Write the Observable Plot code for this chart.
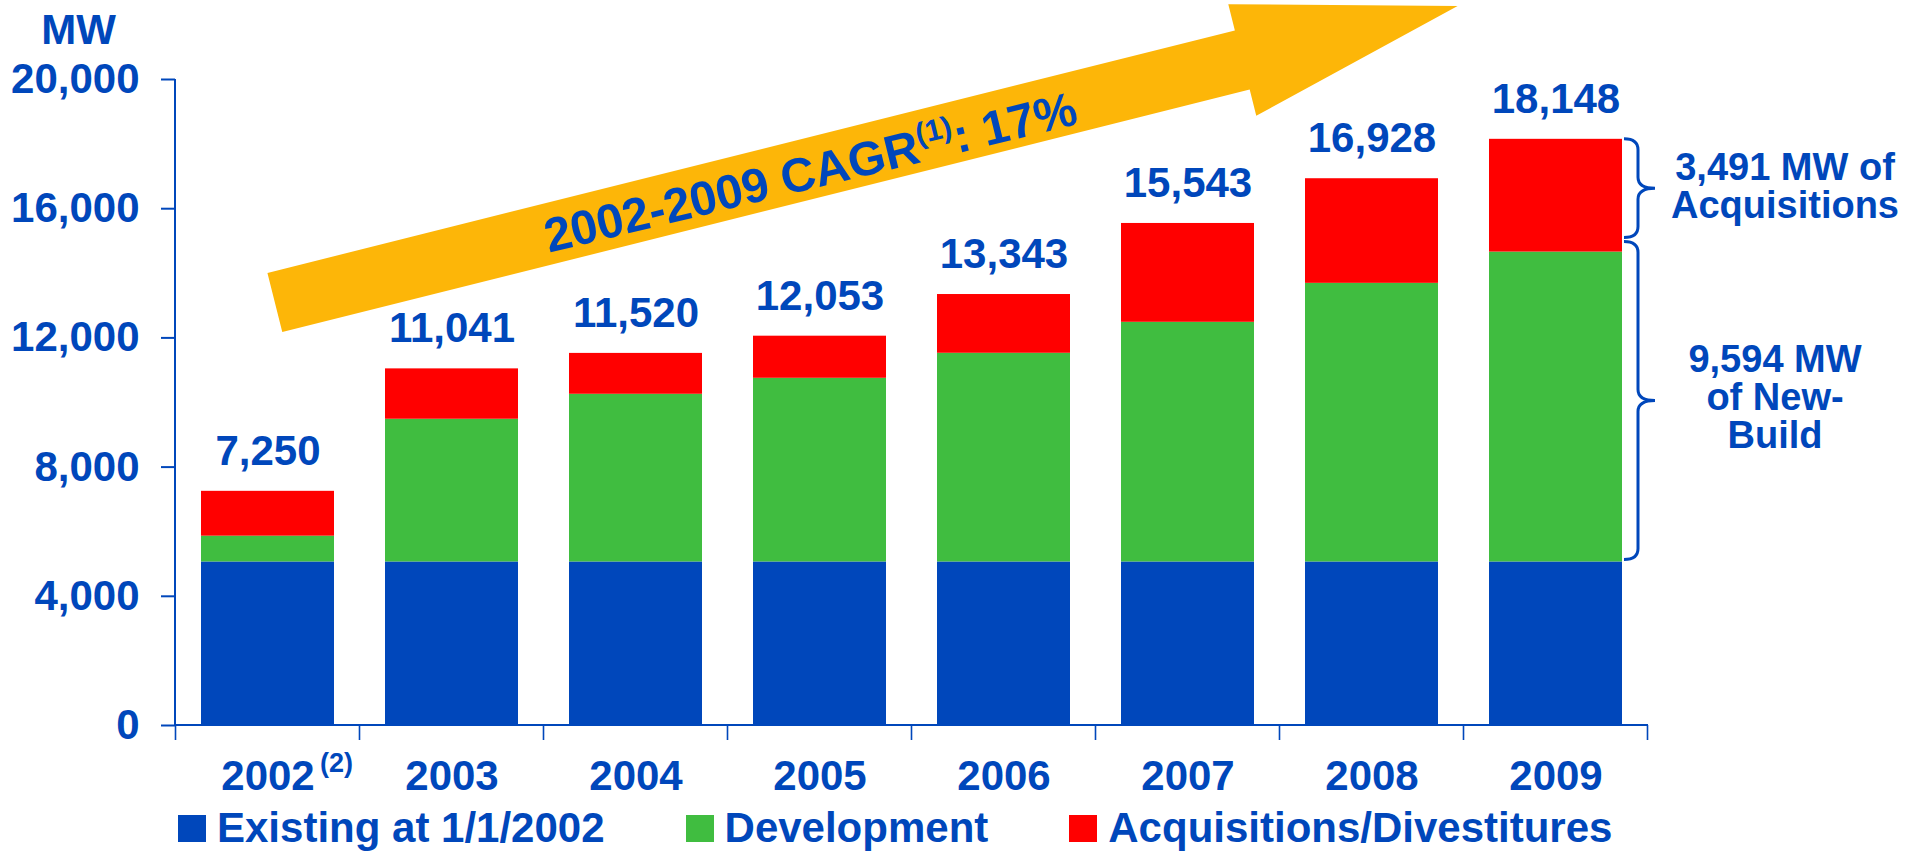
<!DOCTYPE html>
<html>
<head>
<meta charset="utf-8">
<script src="https://cdn.jsdelivr.net/npm/d3@7"></script>
<script src="https://cdn.jsdelivr.net/npm/@observablehq/plot@0.6"></script>
<style>
html, body { margin: 0; padding: 0; background: #fff; overflow: hidden; }
#chart svg { display: block; }
g[aria-label^="y-axis"] path, g[aria-label^="y-axis"] line { stroke-width: 2px; }
#legend {
  display: flex; align-items: baseline; gap: 81px;
  padding: 4px 0 0 178px; height: 48px; line-height: 48px;
  font: bold 42px 'Liberation Sans', Arial, sans-serif; color: #0047BB;
}
#legend .item { display: flex; align-items: baseline; white-space: nowrap; }
#legend .sw { display: inline-block; width: 28px; height: 27px; margin-right: 11px; }
</style>
</head>
<body>
<div id="chart"></div>
<div id="legend"></div>
<script>
// ---------- data ----------
const years = ["2002", "2003", "2004", "2005", "2006", "2007", "2008", "2009"];
const existing = [5063, 5063, 5063, 5063, 5063, 5063, 5063, 5063];
const development = [799, 4419, 5192, 5687, 6461, 7420, 8626, 9594];
const acquisitions = [1388, 1559, 1265, 1303, 1819, 3060, 3239, 3491];
const totals = [7250, 11041, 11520, 12053, 13343, 15543, 16928, 18148];
const seriesNames = ["Existing at 1/1/2002", "Development", "Acquisitions/Divestitures"];
const seriesColors = ["#0047BB", "#40BD40", "#FF0000"];
const yTicks = [0, 4000, 8000, 12000, 16000, 20000];
const yUnit = "MW";
const firstYearNote = "(2)";
const cagrLabel = "2002-2009 CAGR";
const cagrNote = "(1)";
const cagrValue = ": 17%";

// ---------- derived table ----------
const fmt = d3.format(",");
const BLUE = "#0047BB";
const rows = [];
years.forEach((year, i) => {
  rows.push({year, series: seriesNames[0], value: existing[i]});
  rows.push({year, series: seriesNames[1], value: development[i]});
  rows.push({year, series: seriesNames[2], value: acquisitions[i]});
});
const totalRows = years.map((year, i) => ({year, total: totals[i]}));
const L = years.length - 1;
const lastYear = years[L];
const newBuildTop = existing[L] + development[L];
const acqNote = [{year: lastYear, y: (totals[L] + newBuildTop) / 2, text: `${fmt(acquisitions[L])} MW of\nAcquisitions`}];
const buildNote = [{year: lastYear, y: (newBuildTop + existing[L]) / 2, text: `${fmt(development[L])} MW\nof New-\nBuild`}];

// ---------- helpers for custom marks ----------
function bandInfo(sx, dims) {
  let bw = typeof sx.bandwidth === "function" ? sx.bandwidth() : sx.bandwidth;
  let step = typeof sx.step === "function" ? sx.step() : sx.step;
  if (!(step > 0)) step = (dims.width - dims.marginLeft - dims.marginRight) / years.length;
  if (!(bw > 0)) bw = step * (1 - 0.2775);
  return {bw, step};
}

// axis lines + category boundary ticks
function axisLines(index, scales, values, dims) {
  const sx = scales.x, sy = scales.y;
  const {bw, step} = bandInfo(sx, dims);
  const x0 = dims.marginLeft, x1 = dims.width - dims.marginRight;
  const y0 = sy(0), yTop = sy(d3.max(yTicks));
  const g = d3.create("svg:g").attr("fill", "none").attr("stroke", BLUE);
  g.append("path").attr("stroke-width", 2).attr("d", `M${x0},${yTop}V${y0}M${x0},${y0}H${x1}`);
  const bounds = years.map(y => sx(y) - (step - bw) / 2).concat(sx(lastYear) + bw + (step - bw) / 2);
  g.append("path").attr("stroke-width", 1.6).attr("d", bounds.map(b => `M${b},${y0}v15`).join(""));
  return g.node();
}

// CAGR arrow
function cagrArrow(index, scales, values, dims) {
  const sx = scales.x, sy = scales.y;
  const {bw, step} = bandInfo(sx, dims);
  const c = y => sx(y) + bw / 2;
  const T = [c(years[0]) + 0.04 * step, sy(13080)];
  const P = [c(lastYear) - 0.532 * step, sy(22260)];
  const dx = P[0] - T[0], dy = P[1] - T[1];
  const len = Math.hypot(dx, dy);
  const u = [dx / len, dy / len], n = [-u[1], u[0]];
  const hw = 30.5, hh = 57.5, hl = 222;
  const B = [P[0] - u[0] * hl, P[1] - u[1] * hl];
  const pt = (p, k) => [p[0] + n[0] * k, p[1] + n[1] * k];
  const pts = [pt(T, hw), pt(B, hw), pt(B, hh), P, pt(B, -hh), pt(B, -hw), pt(T, -hw)];
  const g = d3.create("svg:g");
  g.append("path").attr("fill", "#FDB608").attr("d", "M" + pts.map(p => p.join(",")).join("L") + "Z");
  const f = 0.452 * len;
  const cx = T[0] + u[0] * f + n[0] * 3, cy = T[1] + u[1] * f + n[1] * 3;
  const ang = Math.atan2(u[1], u[0]) * 180 / Math.PI + 0.4;
  const t = g.append("text")
    .attr("transform", `translate(${cx},${cy}) rotate(${ang})`)
    .attr("text-anchor", "middle").attr("dy", "0.36em")
    .attr("fill", BLUE).attr("font-size", 48).attr("font-weight", "bold");
  t.append("tspan").text(cagrLabel);
  t.append("tspan").attr("font-size", 30).attr("dy", -18).text(cagrNote);
  t.append("tspan").attr("dy", 18).text(cagrValue);
  return g.node();
}

// braces next to the last bar
function braces(index, scales, values, dims) {
  const sx = scales.x, sy = scales.y;
  const {bw} = bandInfo(sx, dims);
  const x0 = sx(lastYear) + bw + 2, xm = x0 + 14, xt = x0 + 31, r = 11;
  const spans = [
    {top: sy(totals[L]), bottom: sy(newBuildTop) - 14},
    {top: sy(newBuildTop) - 10, bottom: sy(existing[L]) - 2}
  ];
  const g = d3.create("svg:g").attr("fill", "none").attr("stroke", BLUE).attr("stroke-width", 3);
  for (const {top: a, bottom: b} of spans) {
    const m = (a + b) / 2;
    g.append("path").attr("d",
      `M${x0},${a}Q${xm},${a} ${xm},${a + r}V${m - r}Q${xm},${m} ${xt},${m}` +
      `Q${xm},${m} ${xm},${m + r}V${b - r}Q${xm},${b} ${x0},${b}`);
  }
  return g.node();
}

// ---------- plot ----------
const chart = Plot.plot({
  width: 1909,
  height: 800,
  marginTop: 79,
  marginBottom: 75,
  marginLeft: 175,
  marginRight: 261,
  style: {
    fontFamily: "'Liberation Sans', Arial, sans-serif",
    fontSize: "42px",
    fontWeight: "bold",
    color: BLUE,
    background: "white",
    overflow: "visible"
  },
  x: {type: "band", domain: years, paddingInner: 0.2775, paddingOuter: 0.13875, axis: null},
  y: {domain: [0, 20000], ticks: yTicks, tickFormat: d3.format(","), tickSize: 14, tickPadding: 22, label: null},
  color: {domain: seriesNames, range: seriesColors},
  marks: [
    cagrArrow,
    axisLines,
    Plot.barY(rows, {x: "year", y: "value", fill: "series"}),
    braces,
    Plot.text(totalRows, {x: "year", y: "total", text: d => fmt(d.total), dy: -40,
      fontSize: 42, fontWeight: "bold", fill: BLUE}),
    Plot.text(years, {x: d => d, y: () => 0, text: d => d, dy: 51,
      fontSize: 42, fontWeight: "bold", fill: BLUE}),
    Plot.text([years[0]], {x: d => d, y: () => 0, text: () => firstYearNote, dx: 52, dy: 38,
      textAnchor: "start", fontSize: 27, fontWeight: "bold", fill: BLUE}),
    Plot.text([d3.max(yTicks)], {y: d => d, frameAnchor: "left", text: () => yUnit, dx: -97, dy: -49,
      textAnchor: "middle", fontSize: 42, fontWeight: "bold", fill: BLUE}),
    Plot.text(acqNote, {x: "year", y: "y", text: "text", dx: 229, dy: -9,
      lineHeight: 1, textAnchor: "middle", fontSize: 38, fontWeight: "bold", fill: BLUE}),
    Plot.text(buildNote, {x: "year", y: "y", text: "text", dx: 219, dy: -9,
      lineHeight: 1, textAnchor: "middle", fontSize: 38, fontWeight: "bold", fill: BLUE})
  ]
});
document.getElementById("chart").appendChild(chart);

// ---------- legend ----------
const legend = d3.select("#legend");
seriesNames.forEach((name, i) => {
  const item = legend.append("div").attr("class", "item");
  item.append("span").attr("class", "sw").style("background", seriesColors[i]);
  item.append("span").text(name);
});
</script>
</body>
</html>
